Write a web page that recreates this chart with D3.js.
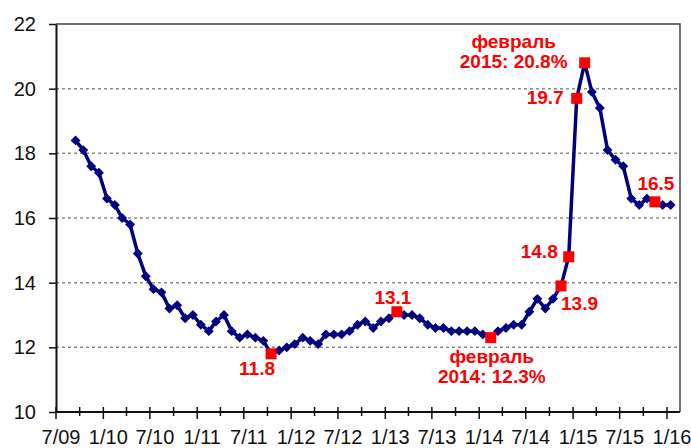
<!DOCTYPE html>
<html>
<head>
<meta charset="utf-8">
<script src="https://cdn.jsdelivr.net/npm/d3@7"></script>
<style>
  body { margin: 0; background: #fff; }
  text { font-family: Arial, "Liberation Sans", sans-serif; }
</style>
</head>
<body>
<div class="chart"></div>
<script>
// monthly series, Sep 2009 .. Jan 2016
let firstMonth = "2009-09";
let values = [
  18.4, 18.1, 17.6, 17.4,
  16.6, 16.4, 16.0, 15.8, 14.9, 14.2, 13.8, 13.7, 13.2, 13.3, 12.9, 13.0,
  12.7, 12.5, 12.8, 13.0, 12.5, 12.3, 12.4, 12.3, 12.2, 11.8, 11.9, 12.0,
  12.1, 12.3, 12.2, 12.1, 12.4, 12.4, 12.4, 12.5, 12.7, 12.8, 12.6, 12.8,
  12.9, 13.1, 13.0, 13.0, 12.9, 12.7, 12.6, 12.6, 12.5, 12.5, 12.5, 12.5,
  12.4, 12.3, 12.5, 12.6, 12.7, 12.7, 13.1, 13.5, 13.2, 13.5, 13.9, 14.8,
  19.7, 20.8, 19.9, 19.4, 18.1, 17.8, 17.6, 16.6, 16.4, 16.6, 16.5, 16.4,
  16.4
];
let yTicks = [10, 12, 14, 16, 18, 20, 22];
let xStart = "2009-07", xEnd = "2016-01";

// highlighted points (red squares) and their labels
let highlights = ["2011-10", "2013-02", "2014-02", "2014-11", "2014-12", "2015-01", "2015-02", "2015-11"];
let labelLines = {
  "2011-10": ["11.8"],
  "2013-02": ["13.1"],
  "2014-02": ["февраль", "2014: 12.3%"],
  "2014-11": ["13.9"],
  "2014-12": ["14.8"],
  "2015-01": ["19.7"],
  "2015-02": ["февраль", "2015: 20.8%"],
  "2015-11": ["16.5"]
};

let parseMonth = d3.timeParse("%Y-%m");
let fmtKey = d3.timeFormat("%Y-%m");
let data = values.map((v, i) => {
  let m = d3.timeMonth.offset(parseMonth(firstMonth), i);
  return { month: m, date: new Date(m.getFullYear(), m.getMonth(), 15), key: fmtKey(m), value: v };
});

let margin = { top: 24, right: 11, bottom: 36, left: 56 };
let W = 691, H = 448;
let width = W - margin.left - margin.right;
let height = H - margin.top - margin.bottom;

let svg = d3.select(".chart").append("svg")
  .attr("width", W).attr("height", H)
  .append("g")
  .attr("transform", `translate(${margin.left}, ${margin.top})`);

let x = d3.scaleTime().domain([parseMonth(xStart), parseMonth(xEnd)]).range([0, 611]);
let y = d3.scaleLinear().domain([10, 22]).range([height, 0]);

// grid lines
svg.selectAll(".grid").data(yTicks.filter(t => t > 10 && t < 22)).enter()
  .append("line")
  .attr("x1", 0).attr("x2", width)
  .attr("y1", d => y(d)).attr("y2", d => y(d))
  .attr("stroke", "#8c8c8c").attr("stroke-width", 1.5)
  .attr("stroke-dasharray", "3,3");

// frame (top/right)
svg.append("path")
  .attr("d", `M0,0H${width}V${height}`)
  .attr("fill", "none").attr("stroke", "#444").attr("stroke-width", 1.5);

// y axis
let yAxis = d3.axisLeft(y).tickValues(yTicks).tickSize(7).tickPadding(13).tickSizeOuter(0);
let gy = svg.append("g").call(yAxis);
gy.select(".domain").attr("stroke", "#111").attr("stroke-width", 2);
gy.selectAll(".tick line").attr("stroke", "#111").attr("stroke-width", 1.5);
gy.selectAll("text").style("font-size", "20px").attr("fill", "#111");

// x axis
let xTickDates = d3.timeMonth.every(3).range(parseMonth(xStart), d3.timeMonth.offset(parseMonth(xEnd), 1));
let gx = svg.append("g").attr("transform", `translate(0, ${height})`);
gx.append("line").attr("x1", 0).attr("x2", width).attr("stroke", "#111").attr("stroke-width", 2);
gx.selectAll(".xt").data(xTickDates).enter().append("line")
  .attr("x1", d => x(d)).attr("x2", d => x(d))
  .attr("y1", -5).attr("y2", (d, i) => i % 2 === 0 ? 7 : 4)
  .attr("stroke", "#111").attr("stroke-width", 1.5);
gx.selectAll(".xl").data(xTickDates.filter((d, i) => i % 2 === 0)).enter().append("text")
  .attr("x", d => x(d) + 5).attr("y", 32)
  .attr("text-anchor", "middle")
  .style("font-size", "20px").attr("fill", "#111")
  .text(d3.timeFormat("%-m/%y"));

// series line
let line = d3.line().x(d => x(d.date)).y(d => y(d.value));
svg.append("path").datum(data)
  .attr("d", line).attr("fill", "none")
  .attr("stroke", "#000080").attr("stroke-width", 3.5).attr("stroke-linejoin", "round");

// diamond markers
svg.selectAll(".dm").data(data.filter(d => !highlights.includes(d.key))).enter()
  .append("rect")
  .attr("width", 7).attr("height", 7).attr("x", -3.5).attr("y", -3.5)
  .attr("transform", d => `translate(${x(d.date)}, ${y(d.value)}) rotate(45)`)
  .attr("fill", "#000080");

// red squares
let hl = data.filter(d => highlights.includes(d.key));
svg.selectAll(".sq").data(hl).enter().append("rect")
  .attr("x", d => x(d.date) - 5.5).attr("y", d => y(d.value) - 5.5)
  .attr("width", 11).attr("height", 11)
  .attr("fill", "#ff0000");

// label placement relative to each point: dx, dy of first baseline, anchor
let place = {
  "2011-10": [-14, 21, "middle"],
  "2013-02": [-4, -8, "middle"],
  "2014-02": [1, 25, "middle"],
  "2014-11": [0, 24, "start"],
  "2014-12": [-11, 1, "end"],
  "2015-01": [-13, 6, "end"],
  "2015-02": [-71, -15, "middle"],
  "2015-11": [1, -12, "middle"]
};
hl.forEach(d => {
  let p = place[d.key];
  let t = svg.append("text")
    .attr("x", x(d.date) + p[0]).attr("y", y(d.value) + p[1])
    .attr("text-anchor", p[2])
    .attr("fill", "#ff0000").style("font-size", "19px").style("font-weight", "bold");
  labelLines[d.key].forEach((s, i) => {
    t.append("tspan").attr("x", x(d.date) + p[0]).attr("dy", i === 0 ? 0 : 20).text(s);
  });
});
</script>
</body>
</html>
